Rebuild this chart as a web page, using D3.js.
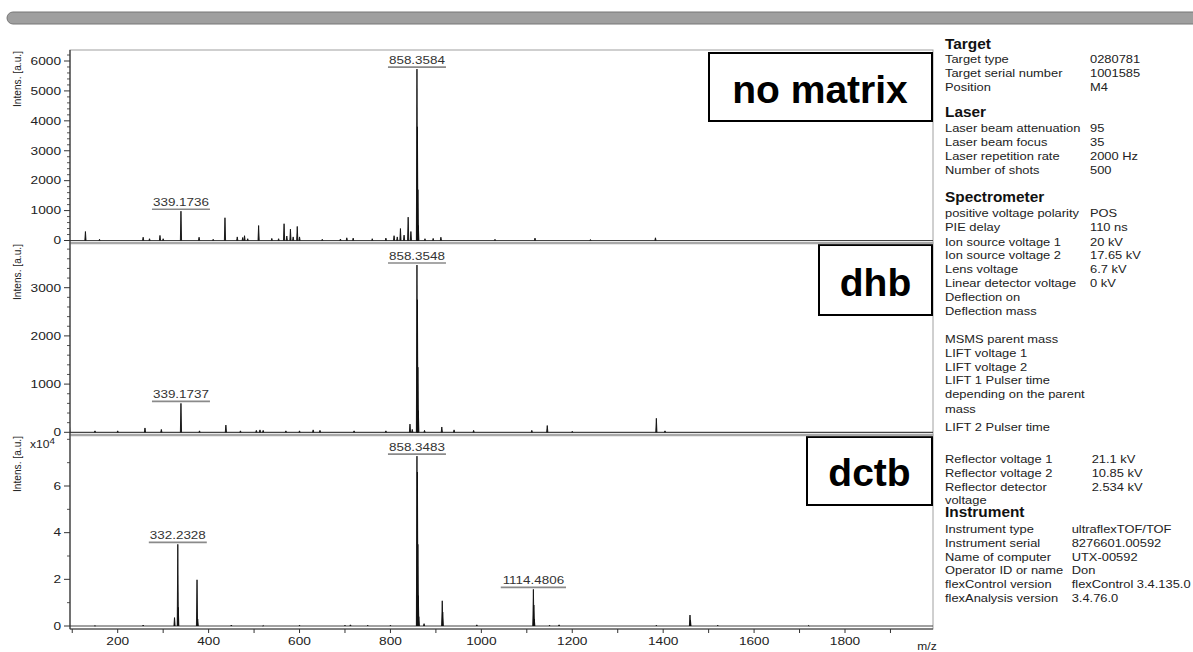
<!DOCTYPE html>
<html><head><meta charset="utf-8">
<script src="https://cdn.jsdelivr.net/npm/d3@7"></script>
<style>body{margin:0;background:#fff}svg{display:block}</style>
</head><body><svg id="c" width="1193" height="652"></svg>
<script>
// ---------- data ----------
const mzMajorTicks = [200, 400, 600, 800, 1000, 1200, 1400, 1600, 1800];
const mzMinorTicks = [100, 300, 500, 700, 900, 1100, 1300, 1500, 1700, 1900];
const panelNames = ["no matrix", "dhb", "dctb"];

const peaksNoMatrix = [
  [129, 300], [160, 40], [256, 110], [270, 60], [293, 170], [300, 60], [339.1736, 980],
  [379, 110], [410, 40], [436, 760], [463, 120], [475, 100], [479, 160], [486, 60],
  [510, 500], [539, 70], [554, 60], [566, 560], [572, 150], [580, 380], [586, 120],
  [595, 470], [600, 120], [650, 40], [690, 50], [704, 90], [718, 80], [760, 60],
  [790, 80], [808, 160], [815, 120], [822, 400], [830, 180], [839, 780], [845, 300],
  [858.3584, 5730], [859.36, 3800], [860.36, 1700], [861.36, 500], [876, 60],
  [894, 70], [911, 110], [1030, 40], [1118, 80], [1240, 30], [1383, 90]
];
const peaksDhb = [
  [93.5, 190], [150, 30], [200, 30], [260, 90], [296, 60], [339.1737, 600], [380, 30],
  [438, 150], [470, 30], [505, 40], [513, 50], [520, 40], [570, 30], [600, 30],
  [630, 50], [645, 40], [720, 30], [790, 30], [843, 170], [848, 60],
  [858.3548, 3470], [859.36, 2750], [860.36, 1350], [861.36, 450], [875, 40],
  [913, 110], [940, 50], [983, 40], [1111, 40], [1145, 140], [1200, 20],
  [1385, 290], [1404, 30]
];
const peaksDctb = [
  [150, 200], [256, 400], [325, 3600], [332.2328, 35000], [333.24, 8000],
  [374.5, 19800], [376, 3000], [450, 400], [520, 200], [600, 300], [700, 300],
  [712, 500], [750, 300], [800, 300], [858.3483, 72800], [859.35, 66000],
  [860.35, 35000], [861.35, 13000], [862.35, 4000], [874, 1000], [914, 10800],
  [915, 6000], [990, 500], [1114.4806, 15700], [1115.48, 9000], [1116.48, 3000],
  [1150, 300], [1171, 500], [1385, 300], [1459, 4700], [1460, 2500], [1520, 300], [1720, 200]
];
const labeledNoMatrix = ["339.1736", "858.3584"];
const labeledDhb = ["339.1737", "858.3548"];
const labeledDctb = ["332.2328", "858.3483", "1114.4806"];

const yMajor1 = [0, 1000, 2000, 3000, 4000, 5000, 6000];
const yMajor2 = [0, 1000, 2000, 3000];
const yMajor3 = [0, 20000, 40000, 60000];
const yMajorLabels3 = ["0", "2", "4", "6"];

const infoRows = [
  ["Target", "", 1], ["Target type", "0280781", 0], ["Target serial number", "1001585", 0],
  ["Position", "M4", 0],
  ["Laser", "", 1], ["Laser beam attenuation", "95", 0], ["Laser beam focus", "35", 0],
  ["Laser repetition rate", "2000 Hz", 0], ["Number of shots", "500", 0],
  ["Spectrometer", "", 1], ["positive voltage polarity", "POS", 0], ["PIE delay", "110 ns", 0],
  ["Ion source voltage 1", "20 kV", 0], ["Ion source voltage 2", "17.65 kV", 0],
  ["Lens voltage", "6.7 kV", 0], ["Linear detector voltage", "0 kV", 0],
  ["Deflection on", "", 0], ["Deflection mass", "", 0],
  ["MSMS parent mass", "", 0], ["LIFT voltage 1", "", 0], ["LIFT voltage 2", "", 0],
  ["LIFT 1 Pulser time", "", 0], ["depending on the parent", "", 0], ["mass", "", 0],
  ["LIFT 2 Pulser time", "", 0],
  ["Reflector voltage 1", "21.1 kV", 0], ["Reflector voltage 2", "10.85 kV", 0],
  ["Reflector detector", "2.534 kV", 0], ["voltage", "", 0],
  ["Instrument", "", 1], ["Instrument type", "ultraflexTOF/TOF", 0],
  ["Instrument serial", "8276601.00592", 0], ["Name of computer", "UTX-00592", 0],
  ["Operator ID or name", "Don", 0], ["flexControl version", "flexControl 3.4.135.0", 0],
  ["flexAnalysis version", "3.4.76.0", 0]
];

// ---------- layout ----------
const infoY = [49, 63.3, 77, 90.5, 117, 131.5, 145.5, 159.5, 173.5, 201.5, 216.5, 231,
  245.5, 259.3, 273.3, 287.3, 301, 315, 342.7, 356.7, 370.7, 384.3, 398.3, 412.7, 430.7,
  463.3, 476.7, 490.7, 504, 517.3, 533.3, 546.7, 560.7, 574, 587.7, 601.7];
const FONT = "'Liberation Sans', Arial, sans-serif";
const SX = 1.28;
const plotL = 70, plotR = 933;
const svg = d3.select("#c");
svg.append("rect").attr("width", 1193).attr("height", 652).attr("fill", "#fff");

const x = d3.scaleLinear().domain([200, 1800]).range([117.7, 845]);

const panels = [
  {top: 50, bottom: 243, y: d3.scaleLinear().domain([0, 6000]).range([240.5, 61]),
   peaks: peaksNoMatrix, labeled: labeledNoMatrix, major: yMajor1, majorLabels: yMajor1.map(String),
   minorStep: 200, minorMax: 6200, box: [709, 53, 223, 68], boxText: [820, 103]},
  {top: 243, bottom: 435, y: d3.scaleLinear().domain([0, 3000]).range([432.3, 287.7]),
   peaks: peaksDhb, labeled: labeledDhb, major: yMajor2, majorLabels: yMajor2.map(String),
   minorStep: 200, minorMax: 3800, box: [819, 245, 113, 70], boxText: [875.5, 296]},
  {top: 435, bottom: 629, y: d3.scaleLinear().domain([0, 60000]).range([626, 486]),
   peaks: peaksDctb, labeled: labeledDctb, major: yMajor3, majorLabels: yMajorLabels3,
   minorStep: 10000, minorMax: 80000, box: [807, 437, 125, 68], boxText: [869.5, 486]}
];

function stext(g, px, py, str, size, anchor, sx, weight, fill) {
  return g.append("text")
    .attr("transform", `translate(${px},${py}) scale(${sx},1)`)
    .attr("font-family", FONT).attr("font-size", size)
    .attr("font-weight", weight || "normal")
    .attr("text-anchor", anchor).attr("fill", fill || "#111").text(str);
}

// top decorative bar
svg.append("rect").attr("x", 7).attr("y", 12).attr("width", 1196).attr("height", 12)
  .attr("rx", 6).attr("fill", "#9f9f9f").attr("stroke", "#777").attr("stroke-width", 1);

panels.forEach((p, i) => {
  const g = svg.append("g");
  const y = p.y;
  g.append("rect").attr("x", plotL).attr("y", p.top).attr("width", plotR - plotL)
    .attr("height", p.bottom - p.top).attr("fill", "none").attr("stroke", "#a0a0a0").attr("stroke-width", 1);
  const clipId = "clip" + i;
  svg.append("clipPath").attr("id", clipId).append("rect")
    .attr("x", plotL).attr("y", p.top).attr("width", plotR - plotL).attr("height", p.bottom - p.top);
  const inner = g.append("g").attr("clip-path", `url(#${clipId})`);
  inner.append("line").attr("x1", plotL).attr("x2", plotR).attr("y1", y(0)).attr("y2", y(0))
    .attr("stroke", "#444").attr("stroke-width", 1.2);
  const hw = 1.3;
  const line = d3.line().x(d => x(d[0])).y(d => y(d[1]));
  inner.selectAll("path.pk").data(p.peaks).join("path").attr("class", "pk")
    .attr("d", d => line([[d[0] - hw, 0], [d[0], d[1]], [d[0] + hw, 0]]))
    .attr("fill", "#111").attr("stroke", "#111").attr("stroke-width", 0.9);
  p.labeled.forEach(lbl => {
    const pk = p.peaks.find(d => d[0] === +lbl);
    const px = x(pk[0]), py = y(pk[1]);
    const w = lbl.length * 7.25;
    g.append("line").attr("x1", px - w / 2).attr("x2", px + w / 2).attr("y1", py - 2).attr("y2", py - 2)
      .attr("stroke", "#8a8a8a").attr("stroke-width", 1.6);
    stext(g, px, py - 5, lbl, 10.5, "middle", SX, "normal", "#333");
  });
  const minors = d3.range(0, p.minorMax + 1, p.minorStep).filter(v => !p.major.includes(v) && y(v) > p.top);
  g.selectAll("line.mn").data(minors).join("line").attr("class", "mn")
    .attr("x1", plotL - 3).attr("x2", plotL).attr("y1", d => y(d)).attr("y2", d => y(d))
    .attr("stroke", "#555").attr("stroke-width", 1);
  g.selectAll("line.mj").data(p.major).join("line").attr("class", "mj")
    .attr("x1", plotL - 6).attr("x2", plotL).attr("y1", d => y(d)).attr("y2", d => y(d))
    .attr("stroke", "#333").attr("stroke-width", 1);
  p.major.forEach((v, k) => {
    stext(g, 61, y(v) + 3.8, p.majorLabels[k], 10.7, "end", SX, "normal", "#222");
  });
  g.append("text").attr("transform", `translate(21,${p.top + 1}) rotate(-90)`)
    .attr("font-family", FONT).attr("font-size", 10.2).attr("text-anchor", "end")
    .attr("fill", "#222").text("Intens. [a.u.]");
  g.append("rect").attr("x", p.box[0]).attr("y", p.box[1]).attr("width", p.box[2]).attr("height", p.box[3])
    .attr("fill", "#fff").attr("stroke", "#000").attr("stroke-width", 2);
  g.append("text").attr("x", p.boxText[0]).attr("y", p.boxText[1]).attr("text-anchor", "middle")
    .attr("font-family", FONT).attr("font-weight", "bold").attr("font-size", 39).attr("fill", "#000")
    .text(panelNames[i]);
});

[243, 435].forEach(v => {
  svg.append("line").attr("x1", plotL).attr("x2", plotR).attr("y1", v).attr("y2", v)
    .attr("stroke", "#a8a8a8").attr("stroke-width", 2.5);
});

svg.append("line").attr("x1", plotL).attr("x2", plotL).attr("y1", 50).attr("y2", 629)
  .attr("stroke", "#333").attr("stroke-width", 1.2);

// x10^4 multiplier
const ex = svg.append("text").attr("transform", "translate(30,447.5) scale(1.15,1)")
  .attr("font-family", FONT).attr("font-size", 10.5).attr("fill", "#222");
ex.append("tspan").text("x10");
ex.append("tspan").attr("dy", -4).attr("font-size", 8.5).text("4");

// x axis
const xa = svg.append("g");
xa.append("line").attr("x1", plotL).attr("x2", plotR).attr("y1", 629).attr("y2", 629)
  .attr("stroke", "#333").attr("stroke-width", 1.2);
xa.selectAll("line.t").data(mzMajorTicks.concat(mzMinorTicks)).join("line").attr("class", "t")
  .attr("x1", d => x(d)).attr("x2", d => x(d)).attr("y1", 629).attr("y2", 633)
  .attr("stroke", "#333").attr("stroke-width", 1);
mzMajorTicks.forEach(v => stext(xa, x(v), 644.5, String(v), 10.7, "middle", SX, "normal", "#222"));
stext(xa, 927, 650, "m/z", 10, "middle", 1.2, "normal", "#222");

// info panel
const ip = svg.append("g");
infoRows.forEach((r, k) => {
  const yy = infoY[k];
  if (r[2] === 1) {
    stext(ip, 945, yy, r[0], 14, "start", 1.1, "bold", "#111");
  } else {
    stext(ip, 945, yy, r[0], 10.4, "start", 1.24, "normal", "#222");
    if (r[1]) {
      const vx = k >= 30 ? 1071.7 : (k >= 25 ? 1091.7 : 1090);
      stext(ip, vx, yy, r[1], 10.4, "start", 1.24, "normal", "#222");
    }
  }
});
</script></body></html>
